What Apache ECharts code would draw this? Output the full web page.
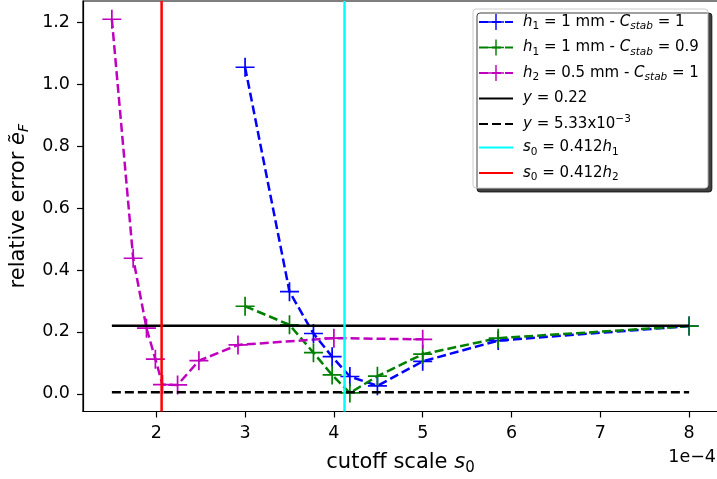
<!DOCTYPE html>
<html>
<head>
<meta charset="utf-8">
<script src="https://cdn.jsdelivr.net/npm/echarts@6/dist/echarts.min.js"></script>
<style>html,body{margin:0;padding:0;background:#fff}#c{width:717px;height:479px}</style>
</head>
<body>
<div id="c"></div>
<script>
// ---- data (x in units of 1e-4) ----
var xBlue  = [3.0, 3.5, 3.77, 3.98, 4.18, 4.49, 5.0, 5.85, 8.0];
var yBlue  = [1.055, 0.33, 0.195, 0.12, 0.056, 0.026, 0.105, 0.172, 0.219];
var xGreen = [3.0, 3.5, 3.77, 3.98, 4.18, 4.49, 5.0, 5.85, 8.0];
var yGreen = [0.283, 0.223, 0.133, 0.061, 0.003, 0.057, 0.128, 0.18, 0.219];
var xMag   = [1.5, 1.74, 1.89, 1.99, 2.07, 2.24, 2.48, 2.92, 4.0, 5.0];
var yMag   = [1.21, 0.438, 0.212, 0.112, 0.03, 0.029, 0.107, 0.158, 0.18, 0.176];
var hLineX = [1.5, 8.0];
var yUpper = 0.22;
var yLower = 0.00533;
var s0h1 = 4.12;
var s0h2 = 2.06;
var xTicks = [2, 3, 4, 5, 6, 7, 8];
var yTicks = [0.0, 0.2, 0.4, 0.6, 0.8, 1.0, 1.2];
var xRange = [1.175, 8.325];
var yRange = [-0.057, 1.269];

function pairs(xs, ys) { return xs.map(function (x, i) { return [x, ys[i]]; }); }

var plusPath = 'path://M-1,-0.09H1V0.09H-1Z M-0.09,-1H0.09V1H-0.09Z';
var FONT = 'DejaVu Sans';

var legendText = {
  blue:  '{i|h}{sub|1}{n| = 1 mm - }{i|C}{subi|stab}{n| = 1}',
  green: '{i|h}{sub|1}{n| = 1 mm - }{i|C}{subi|stab}{n| = 0.9}',
  mag:   '{i|h}{sub|2}{n| = 0.5 mm - }{i|C}{subi|stab}{n| = 1}',
  up:    '{i|y}{n| = 0.22}',
  low:   '{i|y}{n| = 5.33x10}{sup|−3}',
  cyan:  '{i|s}{sub|0}{n| = 0.412}{i|h}{sub|1}',
  red:   '{i|s}{sub|0}{n| = 0.412}{i|h}{sub|2}'
};

function markerSeries(name, color, data) {
  return {
    name: name, type: 'line', data: data,
    symbol: plusPath, symbolSize: 19, showSymbol: true,
    itemStyle: { color: color },
    lineStyle: { color: color, width: 2.5, type: [9, 4] },
    emphasis: { disabled: true }, animation: false, z: 3
  };
}
function plainSeries(name, color, data, dashed, z) {
  return {
    name: name, type: 'line', data: data, symbol: 'none',
    itemStyle: { color: color },
    lineStyle: { color: color, width: 2.5, type: dashed ? [9, 4] : 'solid' },
    emphasis: { disabled: true }, animation: false, z: z || 4
  };
}
var noSym = { color: 'rgba(0,0,0,0)', borderWidth: 0 };

var chart = echarts.init(document.getElementById('c'), null, { renderer: 'canvas' });
chart.setOption({
  backgroundColor: '#fff',
  animation: false,
  grid: { left: 83, top: 1, width: 635, bottom: 67.5, outerBoundsMode: 'none', containLabel: false,
          show: true, borderColor: '#000', borderWidth: 1.2, backgroundColor: 'transparent' },
  xAxis: {
    type: 'value', min: xRange[0], max: xRange[1],
    name: '{n|cutoff scale }{i|s}{sub|0}', nameLocation: 'middle', nameGap: 38,
    nameTextStyle: {
      fontFamily: FONT, fontSize: 21, color: '#000',
      rich: {
        n: { fontFamily: FONT, fontSize: 21, lineHeight: 26, verticalAlign: 'middle' },
        i: { fontFamily: FONT, fontSize: 21, fontStyle: 'italic', lineHeight: 26, verticalAlign: 'middle' },
        sub: { fontFamily: FONT, fontSize: 15, lineHeight: 14, verticalAlign: 'bottom' }
      }
    },
    axisLine: { show: true, onZero: false, lineStyle: { color: '#000', width: 1.2 } },
    axisTick: { show: true, customValues: xTicks, length: 6, inside: false, lineStyle: { color: '#000', width: 1.2 } },
    axisLabel: { customValues: xTicks, color: '#000', fontFamily: FONT, fontSize: 17.5, margin: 13,
      formatter: function (v) { return String(Math.round(v)); } },
    splitLine: { show: false }
  },
  yAxis: {
    type: 'value', min: yRange[0], max: yRange[1],
    name: '{n|relative error }{i|ẽ}{sub|F}', nameLocation: 'middle', nameGap: 40,
    nameTextStyle: {
      fontFamily: FONT, fontSize: 21, color: '#000',
      rich: {
        n: { fontFamily: FONT, fontSize: 21, lineHeight: 26, verticalAlign: 'middle' },
        i: { fontFamily: FONT, fontSize: 21, fontStyle: 'italic', lineHeight: 26, verticalAlign: 'middle' },
        sub: { fontFamily: FONT, fontSize: 14, fontStyle: 'italic', lineHeight: 14, verticalAlign: 'bottom' }
      }
    },
    axisLine: { show: true, onZero: false, lineStyle: { color: '#000', width: 1.2 } },
    axisTick: { show: true, customValues: yTicks, length: 6, inside: false, lineStyle: { color: '#000', width: 1.2 } },
    axisLabel: { customValues: yTicks, color: '#000', fontFamily: FONT, fontSize: 17.5, margin: 13,
      formatter: function (v) { return v.toFixed(1); } },
    splitLine: { show: false }
  },
  legend: {
    orient: 'vertical', left: 473, top: 9,
    padding: [5, 9, 5, 5], itemGap: 7.5, itemWidth: 34, itemHeight: 20,
    backgroundColor: '#fff', borderColor: '#cccccc', borderWidth: 1, borderRadius: 3,
    shadowColor: 'rgba(0,0,0,0.75)', shadowOffsetX: 4, shadowOffsetY: 4, shadowBlur: 0,
    data: [
      { name: 'blue' }, { name: 'green' }, { name: 'mag' },
      { name: 'up', itemStyle: noSym }, { name: 'low', itemStyle: noSym },
      { name: 'cyan', itemStyle: noSym }, { name: 'red', itemStyle: noSym }
    ],
    formatter: function (name) { return legendText[name]; },
    selectedMode: false,
    textStyle: {
      fontFamily: FONT, fontSize: 15, color: '#000', padding: [0, 0, 0, 5],
      rich: {
        n: { fontFamily: FONT, fontSize: 15, lineHeight: 20, verticalAlign: 'middle' },
        i: { fontFamily: FONT, fontSize: 15, fontStyle: 'italic', lineHeight: 20, verticalAlign: 'middle' },
        sub: { fontFamily: FONT, fontSize: 10.5, lineHeight: 10, verticalAlign: 'bottom' },
        subi: { fontFamily: FONT, fontSize: 10.5, fontStyle: 'italic', lineHeight: 10, verticalAlign: 'bottom' },
        sup: { fontFamily: FONT, fontSize: 10.5, lineHeight: 10, verticalAlign: 'top' }
      }
    }
  },
  graphic: [{
    type: 'text', right: 1, top: 448,
    style: { text: '1e−4', fontFamily: FONT, fontSize: 17.5, fill: '#000' }
  }],
  series: [
    markerSeries('blue', '#0000ff', pairs(xBlue, yBlue)),
    markerSeries('green', '#008000', pairs(xGreen, yGreen)),
    markerSeries('mag', '#bf00bf', pairs(xMag, yMag)),
    plainSeries('up', '#000000', hLineX.map(function (x) { return [x, yUpper]; }), false, 4),
    plainSeries('low', '#000000', hLineX.map(function (x) { return [x, yLower]; }), true, 4),
    plainSeries('cyan', '#00ffff', yRange.map(function (y) { return [s0h1, y]; }), false, 5),
    plainSeries('red', '#ff0000', yRange.map(function (y) { return [s0h2, y]; }), false, 6)
  ]
});
</script>
</body>
</html>
